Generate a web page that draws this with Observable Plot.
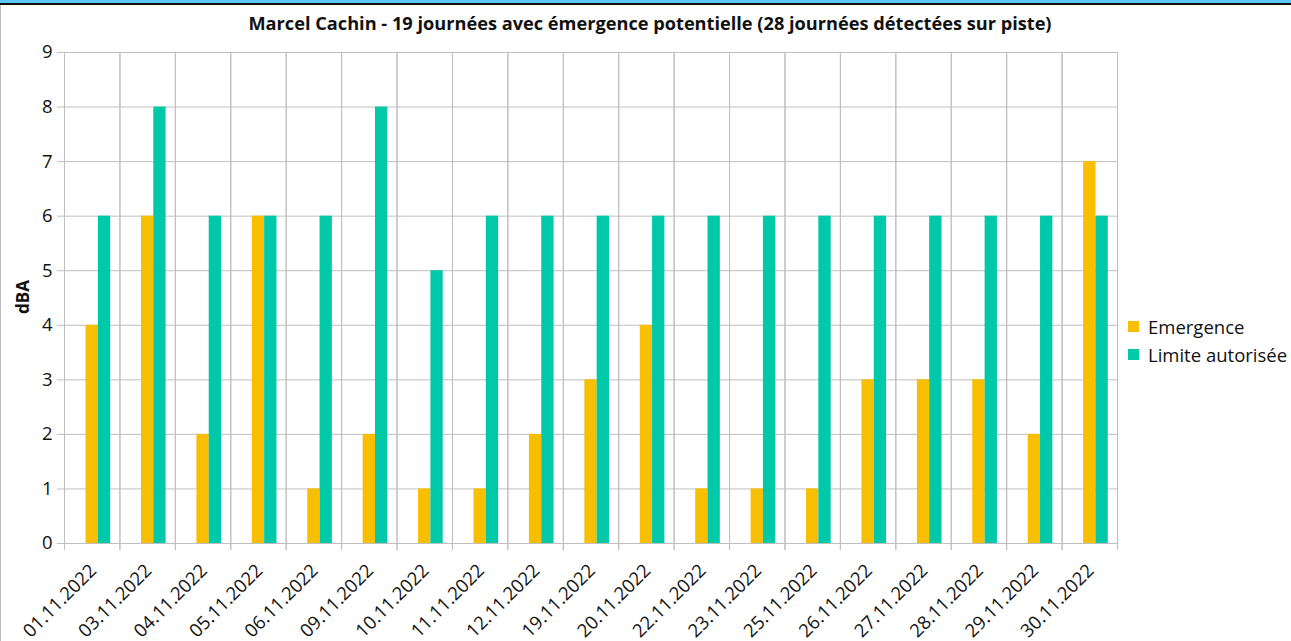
<!DOCTYPE html>
<html>
<head>
<meta charset="utf-8">
<script src="https://cdn.jsdelivr.net/npm/d3@7"></script>
<script src="https://cdn.jsdelivr.net/npm/@observablehq/plot@0.6"></script>
<style>
  html, body { margin: 0; padding: 0; background: #fff; }
  #wrap { position: relative; width: 1291px; height: 641px; overflow: hidden; font-family: "Open Sans", Lato, sans-serif; }
  #topband { position: absolute; left: 0; top: 0; width: 1291px; height: 3px; background: #5cc6f2; }
  #topline { position: absolute; left: 0; top: 3px; width: 1291px; height: 2px; background: #111; }
  #leftline { position: absolute; left: 0; top: 5px; width: 1px; height: 636px; background: #bdbdbd; }
  #title { position: absolute; left: 0; width: 1300px; top: 11px; text-align: center; font-weight: bold; font-size: 18.2px; color: #111; white-space: nowrap; }
  #ylabel { position: absolute; left: 22px; top: 297px; transform: translate(-50%, -50%) rotate(-90deg); font-weight: bold; font-size: 17px; color: #111; }
  #legend { position: absolute; left: 1128px; top: 312px; font-size: 18.5px; color: #111; }
  #legend .item { display: flex; align-items: center; height: 28px; }
  #legend .sw { width: 11px; height: 11px; margin-right: 9px; }
  #chart { position: absolute; left: 0; top: 0; }
</style>
</head>
<body>
<div id="wrap">
  <div id="chart"></div>
  <div id="topband"></div>
  <div id="topline"></div>
  <div id="leftline"></div>
  <div id="title"></div>
  <div id="ylabel"></div>
  <div id="legend"></div>
</div>
<script>
const titleText = "Marcel Cachin - 19 journées avec émergence potentielle (28 journées détectées sur piste)";
const yLabel = "dBA";
const dates = ["01.11.2022","03.11.2022","04.11.2022","05.11.2022","06.11.2022","09.11.2022","10.11.2022","11.11.2022","12.11.2022","19.11.2022","20.11.2022","22.11.2022","23.11.2022","25.11.2022","26.11.2022","27.11.2022","28.11.2022","29.11.2022","30.11.2022"];
const seriesNames = ["Emergence", "Limite autorisée"];
const emergence = [4,6,2,6,1,2,1,1,2,3,4,1,1,1,3,3,3,2,7];
const limite = [6,8,6,6,6,8,5,6,6,6,6,6,6,6,6,6,6,6,6];
const colors = ["#f8be00", "#00c9aa"];
const yTicks = [0,1,2,3,4,5,6,7,8,9];

const rows = [];
dates.forEach((d, i) => {
  rows.push({date: d, series: seriesNames[0], value: emergence[i]});
  rows.push({date: d, series: seriesNames[1], value: limite[i]});
});

const gridColor = "#bfbfbf";
const W = 1291, H = 641;
const mL = 64, mR = 174, mT = 52, mB = 98;
const halfBand = (W - mL - mR) / dates.length / 2;
const font = "'Open Sans', Lato, sans-serif";

const chart = Plot.plot({
  width: W, height: H,
  marginTop: mT, marginLeft: mL, marginRight: mR, marginBottom: mB,
  style: {fontFamily: font, background: "transparent", color: "#111"},
  fx: {domain: dates, paddingInner: 0, paddingOuter: 0, round: false, label: null, axis: null},
  x: {domain: ["_hidden", ...seriesNames], paddingInner: 0, paddingOuter: 0.75, round: false, axis: null},
  y: {domain: [0, 9], label: null},
  color: {domain: seriesNames, range: colors},
  marks: [
    Plot.gridY(yTicks, {stroke: gridColor, strokeOpacity: 1}),
    Plot.frame({stroke: gridColor, strokeOpacity: 1}),
    Plot.barY(rows, {fx: "date", x: "series", y: "value", fill: "series"}),
    Plot.axisY(yTicks, {tickSize: 7, tickPadding: 5, stroke: gridColor, fontSize: 18.5, tickFormat: d => String(d), label: null}),
    Plot.axisFx({anchor: "bottom", tickSize: 7, dx: -halfBand, stroke: gridColor, text: null, label: null}),
    Plot.axisFx({anchor: "bottom", tickSize: 7, dx: halfBand, stroke: gridColor, text: null, label: null}),
    Plot.axisFx({anchor: "bottom", tickSize: 0, tickPadding: 24, tickRotate: -45, fontSize: 18.5, dx: 1, label: null})
  ]
});
document.getElementById("chart").appendChild(chart);

document.getElementById("title").textContent = titleText;
document.getElementById("ylabel").textContent = yLabel;
const legend = document.getElementById("legend");
seriesNames.forEach((s, i) => {
  const it = document.createElement("div");
  it.className = "item";
  const sw = document.createElement("span");
  sw.className = "sw";
  sw.style.background = colors[i];
  const t = document.createElement("span");
  t.textContent = s;
  it.appendChild(sw); it.appendChild(t);
  legend.appendChild(it);
});
</script>
</body>
</html>
